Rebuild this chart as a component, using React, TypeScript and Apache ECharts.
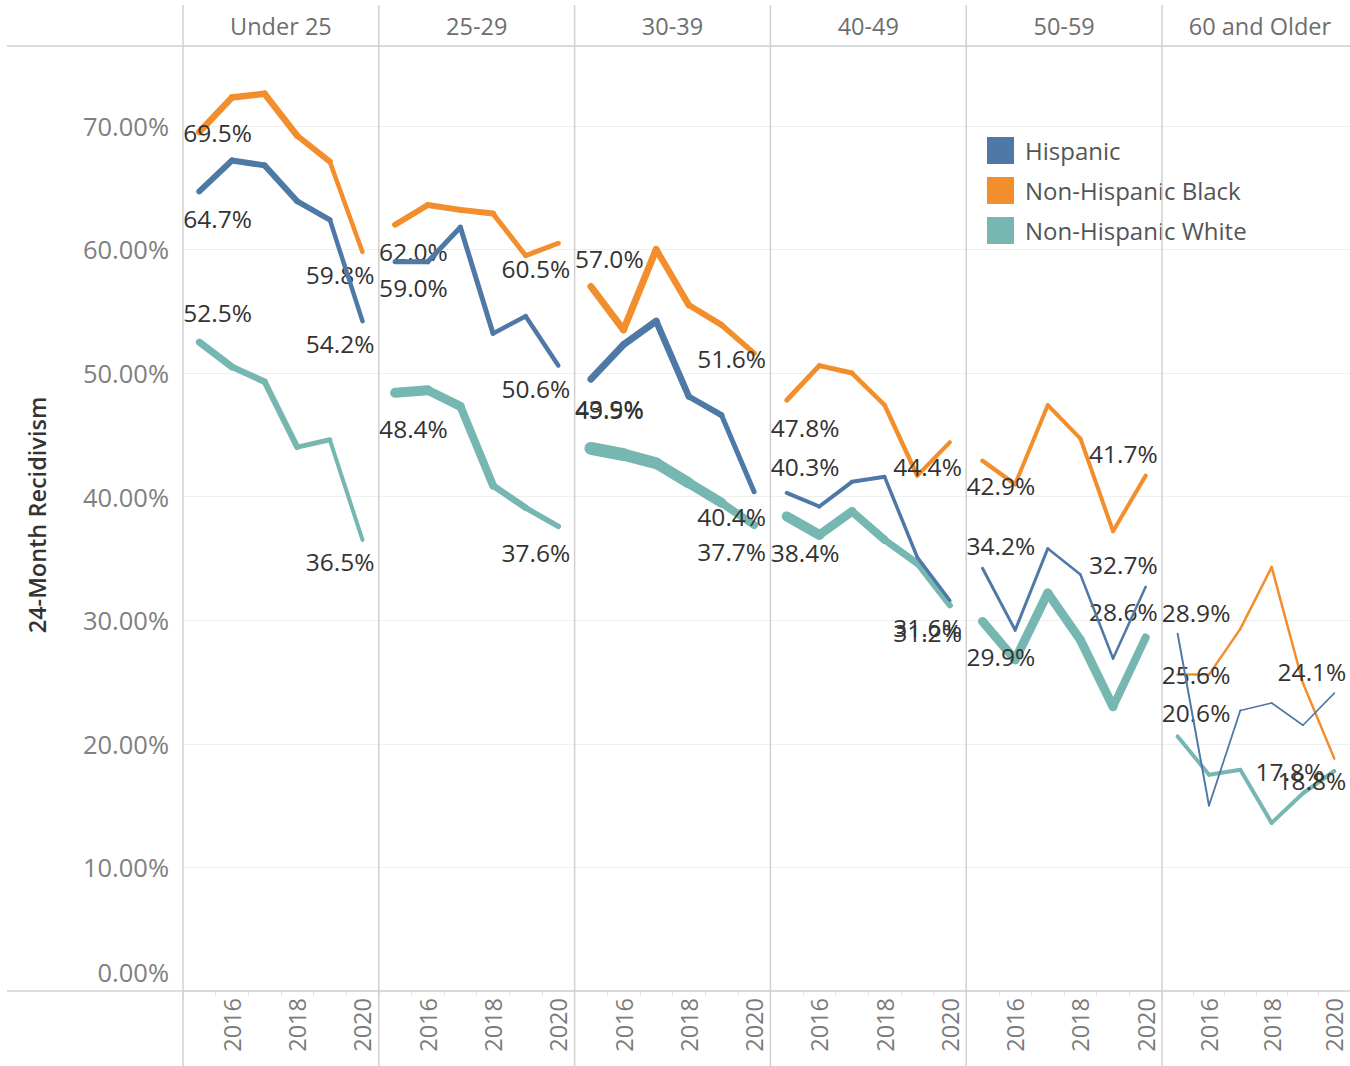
import React, { useEffect, useRef } from 'react';
import * as echarts from 'echarts';

// ---- data ----
const years = ['2015', '2016', '2017', '2018', '2019', '2020'];
const panels = ['Under 25', '25-29', '30-39', '40-49', '50-59', '60 and Older'];
const groups = ['Hispanic', 'Non-Hispanic Black', 'Non-Hispanic White'];

const hispanic = [
  [64.7, 67.2, 66.8, 63.9, 62.4, 54.2],
  [59.0, 59.0, 61.8, 53.2, 54.6, 50.6],
  [49.5, 52.3, 54.2, 48.1, 46.6, 40.4],
  [40.3, 39.2, 41.2, 41.6, 35.1, 31.6],
  [34.2, 29.2, 35.8, 33.7, 26.9, 32.7],
  [28.9, 15.0, 22.7, 23.3, 21.5, 24.1],
];
const black = [
  [69.5, 72.3, 72.6, 69.2, 67.1, 59.8],
  [62.0, 63.6, 63.2, 62.9, 59.5, 60.5],
  [57.0, 53.5, 60.0, 55.5, 53.9, 51.6],
  [47.8, 50.6, 50.0, 47.4, 41.7, 44.4],
  [42.9, 41.0, 47.4, 44.7, 37.2, 41.7],
  [25.6, 25.6, 29.3, 34.3, 24.9, 18.8],
];
const white = [
  [52.5, 50.5, 49.3, 44.0, 44.6, 36.5],
  [48.4, 48.6, 47.3, 40.9, 39.1, 37.6],
  [43.9, 43.4, 42.7, 41.1, 39.5, 37.7],
  [38.4, 36.9, 38.8, 36.5, 34.6, 31.2],
  [29.9, 26.8, 32.2, 28.4, 23.0, 28.6],
  [20.6, 17.5, 17.9, 13.6, 16.0, 17.8],
];
const yTicks = [0, 10, 20, 30, 40, 50, 60, 70];

// ---- styles ----
const colors = ['#4e79a7', '#f28e2b', '#76b7b2'];
// stroke width of each segment (5 per line), per group, per panel
const segWidths = [
  [
    [6, 6, 6, 5.5, 4.5],
    [5, 5, 5, 4.5, 4.5],
    [7, 7, 6.5, 6, 5],
    [4, 4, 4, 3.5, 3.5],
    [3, 3, 2.5, 2.5, 2.5],
    [2, 1.8, 1.6, 1.6, 1.6],
  ],
  [
    [6.5, 6.5, 6.5, 6, 4.5],
    [6, 6, 6, 5, 5],
    [7, 7, 6.5, 6, 5.5],
    [5, 5, 4.5, 4.5, 4],
    [4.5, 4, 4, 4, 4],
    [2.5, 2.5, 2.5, 2.5, 2.5],
  ],
  [
    [7, 6.5, 6, 5, 4],
    [10, 9, 8, 6.5, 5.5],
    [13, 12, 11, 10, 8],
    [10, 9, 8, 7, 6],
    [9, 9, 9, 9, 8],
    [4, 4, 4, 4, 4],
  ],
];
// label vertical offsets [first, last] per group per panel
const labelDy = [
  [[27, 22], [26, 23], [30, 25], [-26, 27], [-23, -22], [-21, -22]],
  [[0, 23], [27, 25], [-28, 5], [27, 24], [25, -22], [0, 22]],
  [[-30, 22], [36, 26], [-40, 26], [36, 27], [35, -26], [-24, 0]],
];
const lastDx = [
  [12, 12, 12, 12, 12, 12],
  [12, 12, 12, 12, 12, 12],
  [12, 12, 12, 12, 12, -10],
];

const FONT = '"Open Sans", "Noto Sans", sans-serif';

export default function App() {
  const ref = useRef<HTMLDivElement>(null);

  useEffect(() => {
    const chart = echarts.init(ref.current as HTMLDivElement, null, { renderer: 'svg' });
    const top = 46;
    const bottom = 991;
    const panelW = 195.8;
    const lefts = panels.map((_, i) => 183 + i * panelW);
    const yMax = 76.46;
    const seriesData = [hispanic, black, white];

    const grid = panels.map((_, i) => ({
      left: lefts[i],
      top,
      width: panelW,
      height: bottom - top,
    }));

    const xAxis = panels.map((_, i) => ({
      gridIndex: i,
      type: 'category',
      data: years,
      boundaryGap: true,
      axisLine: { show: false },
      axisTick: { show: true, interval: 0, length: 5, lineStyle: { color: '#e2e2e2' } },
      axisLabel: {
        rotate: 90,
        interval: (idx: number) => idx % 2 === 1,
        color: '#7a7a7a',
        fontSize: 23.5,
        fontFamily: FONT,
        margin: 7,
      },
      splitLine: { show: false },
    }));

    const yAxis = panels.map((_, i) => ({
      gridIndex: i,
      type: 'value',
      min: 0,
      max: yMax,
      interval: 10,
      axisLine: { show: false },
      axisTick: { show: false },
      splitLine: { show: true, lineStyle: { color: '#efefef', width: 1 } },
      axisLabel: {
        show: i === 0,
        color: '#808080',
        fontSize: 25.5,
        fontFamily: FONT,
        margin: 14,
        formatter: (v: number) => {
          if (!yTicks.includes(Math.round(v * 100) / 100)) return '';
          if (v === 0) return '{z|0.00%}';
          return v.toFixed(2) + '%';
        },
        rich: {
          z: { fontSize: 25.5, fontFamily: FONT, color: '#808080', padding: [0, 0, 38, 0] },
        },
      },
    }));

    const series: any[] = [];
    const order = [2, 1, 0];
    panels.forEach((_, i) => {
      order.forEach((g) => {
        const vals = seriesData[g][i];
        const n = vals.length;
        for (let k = 0; k < n - 1; k++) {
          series.push({
            type: 'line',
            name: groups[g],
            xAxisIndex: i,
            yAxisIndex: i,
            z: 2 + (2 - g),
            silent: true,
            symbol: 'circle',
            symbolSize: 1,
            showSymbol: true,
            connectNulls: false,
            itemStyle: { color: colors[g] },
            lineStyle: { color: colors[g], width: segWidths[g][i][k], cap: 'round', join: 'round' },
            emphasis: { disabled: true },
            label: {
              show: false,
              color: '#333',
              fontSize: 24.5,
              fontFamily: FONT,
              formatter: (p: any) => Number(p.value).toFixed(1) + '%',
            },
            data: vals.map((v, j) => {
              if (j !== k && j !== k + 1) return '-';
              if (j === 0 && k === 0) {
                return {
                  value: v,
                  label: { show: true, position: 'inside', align: 'left', verticalAlign: 'middle', offset: [-16, labelDy[g][i][0]] },
                };
              }
              if (j === n - 1 && k === n - 2) {
                return {
                  value: v,
                  label: { show: true, position: 'inside', align: 'right', verticalAlign: 'middle', offset: [lastDx[g][i], labelDy[g][i][1]] },
                };
              }
              return v;
            }),
          });
        }
      });
    });

    const graphic: any[] = [];
    graphic.push({ type: 'line', shape: { x1: 7, y1: top, x2: 1350, y2: top }, style: { stroke: '#d0d0d0', lineWidth: 1.5 }, z: 10 });
    graphic.push({ type: 'line', shape: { x1: 7, y1: bottom, x2: 1350, y2: bottom }, style: { stroke: '#d0d0d0', lineWidth: 1.5 }, z: 10 });
    lefts.forEach((x) => {
      graphic.push({ type: 'line', shape: { x1: x, y1: 5, x2: x, y2: 1066 }, style: { stroke: '#d0d0d0', lineWidth: 1.5 }, z: 10 });
    });
    panels.forEach((p, i) => {
      graphic.push({
        type: 'text',
        x: lefts[i] + panelW / 2,
        y: 26,
        style: { text: p, fill: '#6e6e6e', fontSize: 23.5, fontFamily: FONT, align: 'center', verticalAlign: 'middle' },
        z: 10,
      });
    });
    graphic.push({
      type: 'text',
      x: 37,
      y: 515,
      rotation: Math.PI / 2,
      style: {
        text: '24-Month Recidivism',
        fill: '#333',
        fontSize: 23.5,
        fontWeight: 600,
        fontFamily: FONT,
        align: 'center',
        verticalAlign: 'middle',
      },
      z: 10,
    });

    chart.setOption({
      animation: false,
      backgroundColor: '#ffffff',
      grid,
      xAxis,
      yAxis,
      series,
      graphic,
      legend: {
        orient: 'vertical',
        left: 987,
        top: 137,
        padding: 0,
        itemWidth: 27,
        itemHeight: 27,
        itemGap: 13,
        icon: 'rect',
        selectedMode: false,
        data: groups.map((g, k) => ({ name: g, itemStyle: { color: colors[k] } })),
        textStyle: { color: '#555', fontSize: 24, fontFamily: FONT, padding: [0, 0, 0, 6] },
      },
    });

    return () => chart.dispose();
  }, []);

  return (
    <div
      ref={ref}
      style={{ position: 'fixed', left: 0, top: 0, width: 1350, height: 1066, background: '#fff' }}
    />
  );
}
